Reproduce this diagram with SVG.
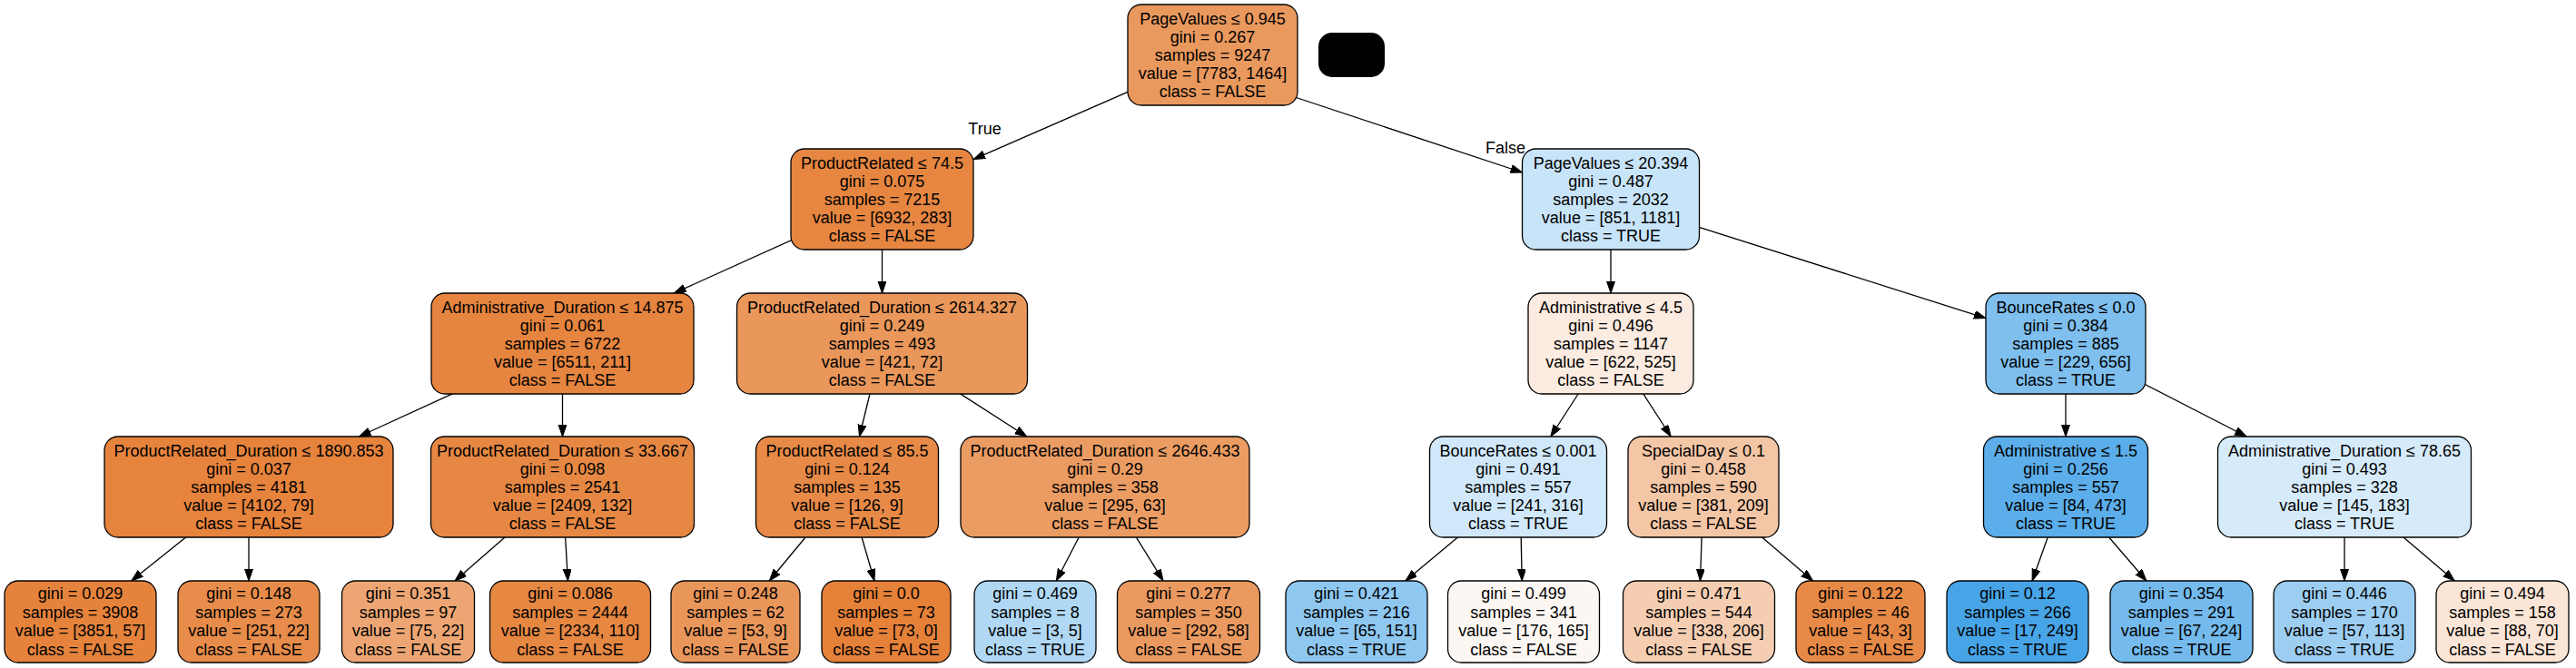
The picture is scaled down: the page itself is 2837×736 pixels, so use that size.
<svg xmlns="http://www.w3.org/2000/svg" width="2837" height="736" viewBox="0 0 2837 736">
<style>
.n rect{stroke:#000;stroke-width:1.3}
text{font-family:"Liberation Sans",Arial,Helvetica,sans-serif;font-size:18px;fill:#000;text-anchor:middle}
.e line{stroke:#000;stroke-width:1.3;marker-end:url(#ah)}
</style>
<defs>
<marker id="ah" markerUnits="userSpaceOnUse" markerWidth="14" markerHeight="10" refX="13" refY="4.5" orient="auto" viewBox="0 0 14 10"><path d="M0,0 L13,4.5 L0,9 z" fill="#000" stroke="#000" stroke-width="1"/></marker>
</defs>
<rect width="2837" height="736" fill="#fff"/>
<g id="connectors" class="e">
<line x1="1335.5" y1="60.5" x2="1072" y2="175.6"/>
<line x1="1420" y1="105" x2="1676.5" y2="190"/>
<line x1="971.5" y1="219.5" x2="742.4" y2="323"/>
<line x1="971.5" y1="219.5" x2="971.5" y2="323"/>
<line x1="1774" y1="219.5" x2="1774" y2="323"/>
<line x1="1774" y1="219.5" x2="2187" y2="350.6"/>
<line x1="619.5" y1="378.5" x2="395.4" y2="481"/>
<line x1="619.5" y1="378.5" x2="619.5" y2="481"/>
<line x1="971.5" y1="378.5" x2="946.5" y2="481"/>
<line x1="971.5" y1="378.5" x2="1130.8" y2="481"/>
<line x1="1774" y1="378.5" x2="1707.8" y2="481"/>
<line x1="1774" y1="378.5" x2="1840.2" y2="481"/>
<line x1="2275" y1="378.5" x2="2275" y2="481"/>
<line x1="2275" y1="378.5" x2="2474.2" y2="481"/>
<line x1="274" y1="536.5" x2="144.7" y2="640"/>
<line x1="274" y1="536.5" x2="274" y2="640"/>
<line x1="619.5" y1="536.5" x2="501" y2="640"/>
<line x1="619.5" y1="536.5" x2="625.4" y2="640"/>
<line x1="933" y1="536.5" x2="847.3" y2="640"/>
<line x1="933" y1="536.5" x2="963" y2="640"/>
<line x1="1217" y1="536.5" x2="1163.3" y2="640"/>
<line x1="1217" y1="536.5" x2="1281.1" y2="640"/>
<line x1="1672" y1="536.5" x2="1547.9" y2="640"/>
<line x1="1674" y1="536.5" x2="1676.2" y2="640"/>
<line x1="1876" y1="536.5" x2="1872.5" y2="640"/>
<line x1="1876" y1="536.5" x2="1996.6" y2="640"/>
<line x1="2275" y1="536.5" x2="2238.1" y2="640"/>
<line x1="2275" y1="536.5" x2="2363.9" y2="640"/>
<line x1="2582" y1="536.5" x2="2582" y2="640"/>
<line x1="2582" y1="536.5" x2="2703.3" y2="640"/>
<text x="1084.5" y="147.5">True</text>
<text x="1658" y="168.5">False</text>
</g>
<g id="redacted"><rect x="1452" y="36" width="73" height="49" rx="15" fill="#000"/></g>
<g id="n0" class="n" transform="translate(1335.5,5)"><rect x="-93.5" y="0" width="187" height="111" rx="15" fill="#ea995e"/><text y="21.5">PageValues ≤ 0.945</text><text y="41.5">gini = 0.267</text><text y="61.5">samples = 9247</text><text y="81.5">value = [7783, 1464]</text><text y="101.5">class = FALSE</text></g>
<g id="n1" class="n" transform="translate(971.5,164)"><rect x="-100.5" y="0" width="201" height="111" rx="15" fill="#e68641"/><text y="21.5">ProductRelated ≤ 74.5</text><text y="41.5">gini = 0.075</text><text y="61.5">samples = 7215</text><text y="81.5">value = [6932, 283]</text><text y="101.5">class = FALSE</text></g>
<g id="n2" class="n" transform="translate(1774,164)"><rect x="-97.5" y="0" width="195" height="111" rx="15" fill="#c8e4f8"/><text y="21.5">PageValues ≤ 20.394</text><text y="41.5">gini = 0.487</text><text y="61.5">samples = 2032</text><text y="81.5">value = [851, 1181]</text><text y="101.5">class = TRUE</text></g>
<g id="n3" class="n" transform="translate(619.5,323)"><rect x="-144.5" y="0" width="289" height="111" rx="15" fill="#e6853f"/><text y="21.5">Administrative_Duration ≤ 14.875</text><text y="41.5">gini = 0.061</text><text y="61.5">samples = 6722</text><text y="81.5">value = [6511, 211]</text><text y="101.5">class = FALSE</text></g>
<g id="n4" class="n" transform="translate(971.5,323)"><rect x="-160" y="0" width="320" height="111" rx="15" fill="#e9975b"/><text y="21.5">ProductRelated_Duration ≤ 2614.327</text><text y="41.5">gini = 0.249</text><text y="61.5">samples = 493</text><text y="81.5">value = [421, 72]</text><text y="101.5">class = FALSE</text></g>
<g id="n5" class="n" transform="translate(1774,323)"><rect x="-91" y="0" width="182" height="111" rx="15" fill="#fbebe0"/><text y="21.5">Administrative ≤ 4.5</text><text y="41.5">gini = 0.496</text><text y="61.5">samples = 1147</text><text y="81.5">value = [622, 525]</text><text y="101.5">class = FALSE</text></g>
<g id="n6" class="n" transform="translate(2275,323)"><rect x="-88" y="0" width="176" height="111" rx="15" fill="#7ebfee"/><text y="21.5">BounceRates ≤ 0.0</text><text y="41.5">gini = 0.384</text><text y="61.5">samples = 885</text><text y="81.5">value = [229, 656]</text><text y="101.5">class = TRUE</text></g>
<g id="n7" class="n" transform="translate(274,481)"><rect x="-159" y="0" width="318" height="111" rx="15" fill="#e6833d"/><text y="21.5">ProductRelated_Duration ≤ 1890.853</text><text y="41.5">gini = 0.037</text><text y="61.5">samples = 4181</text><text y="81.5">value = [4102, 79]</text><text y="101.5">class = FALSE</text></g>
<g id="n8" class="n" transform="translate(619.5,481)"><rect x="-145" y="0" width="290" height="111" rx="15" fill="#e68844"/><text y="21.5">ProductRelated_Duration ≤ 33.667</text><text y="41.5">gini = 0.098</text><text y="61.5">samples = 2541</text><text y="81.5">value = [2409, 132]</text><text y="101.5">class = FALSE</text></g>
<g id="n9" class="n" transform="translate(933,481)"><rect x="-100.5" y="0" width="201" height="111" rx="15" fill="#e78a47"/><text y="21.5">ProductRelated ≤ 85.5</text><text y="41.5">gini = 0.124</text><text y="61.5">samples = 135</text><text y="81.5">value = [126, 9]</text><text y="101.5">class = FALSE</text></g>
<g id="n10" class="n" transform="translate(1217,481)"><rect x="-159" y="0" width="318" height="111" rx="15" fill="#eb9c63"/><text y="21.5">ProductRelated_Duration ≤ 2646.433</text><text y="41.5">gini = 0.29</text><text y="61.5">samples = 358</text><text y="81.5">value = [295, 63]</text><text y="101.5">class = FALSE</text></g>
<g id="n11" class="n" transform="translate(1672,481)"><rect x="-97.5" y="0" width="195" height="111" rx="15" fill="#d0e8f9"/><text y="21.5">BounceRates ≤ 0.001</text><text y="41.5">gini = 0.491</text><text y="61.5">samples = 557</text><text y="81.5">value = [241, 316]</text><text y="101.5">class = TRUE</text></g>
<g id="n12" class="n" transform="translate(1876,481)"><rect x="-83" y="0" width="166" height="111" rx="15" fill="#f3c6a6"/><text y="21.5">SpecialDay ≤ 0.1</text><text y="41.5">gini = 0.458</text><text y="61.5">samples = 590</text><text y="81.5">value = [381, 209]</text><text y="101.5">class = FALSE</text></g>
<g id="n13" class="n" transform="translate(2275,481)"><rect x="-90.5" y="0" width="181" height="111" rx="15" fill="#5caeea"/><text y="21.5">Administrative ≤ 1.5</text><text y="41.5">gini = 0.256</text><text y="61.5">samples = 557</text><text y="81.5">value = [84, 473]</text><text y="101.5">class = TRUE</text></g>
<g id="n14" class="n" transform="translate(2582,481)"><rect x="-139.5" y="0" width="279" height="111" rx="15" fill="#d6ebfa"/><text y="21.5">Administrative_Duration ≤ 78.65</text><text y="41.5">gini = 0.493</text><text y="61.5">samples = 328</text><text y="81.5">value = [145, 183]</text><text y="101.5">class = TRUE</text></g>
<g id="l1" class="n" transform="translate(88.5,640)"><rect x="-83.5" y="0" width="167" height="90" rx="15" fill="#e5833c"/><text y="20">gini = 0.029</text><text y="40.5">samples = 3908</text><text y="61">value = [3851, 57]</text><text y="81.5">class = FALSE</text></g>
<g id="l2" class="n" transform="translate(274,640)"><rect x="-78" y="0" width="156" height="90" rx="15" fill="#e78c4a"/><text y="20">gini = 0.148</text><text y="40.5">samples = 273</text><text y="61">value = [251, 22]</text><text y="81.5">class = FALSE</text></g>
<g id="l3" class="n" transform="translate(449.5,640)"><rect x="-73" y="0" width="146" height="90" rx="15" fill="#eda673"/><text y="20">gini = 0.351</text><text y="40.5">samples = 97</text><text y="61">value = [75, 22]</text><text y="81.5">class = FALSE</text></g>
<g id="l4" class="n" transform="translate(628,640)"><rect x="-88.5" y="0" width="177" height="90" rx="15" fill="#e68742"/><text y="20">gini = 0.086</text><text y="40.5">samples = 2444</text><text y="61">value = [2334, 110]</text><text y="81.5">class = FALSE</text></g>
<g id="l5" class="n" transform="translate(810,640)"><rect x="-71" y="0" width="142" height="90" rx="15" fill="#e9965b"/><text y="20">gini = 0.248</text><text y="40.5">samples = 62</text><text y="61">value = [53, 9]</text><text y="81.5">class = FALSE</text></g>
<g id="l6" class="n" transform="translate(976,640)"><rect x="-71" y="0" width="142" height="90" rx="15" fill="#e58139"/><text y="20">gini = 0.0</text><text y="40.5">samples = 73</text><text y="61">value = [73, 0]</text><text y="81.5">class = FALSE</text></g>
<g id="l7" class="n" transform="translate(1140,640)"><rect x="-67" y="0" width="134" height="90" rx="15" fill="#b0d8f5"/><text y="20">gini = 0.469</text><text y="40.5">samples = 8</text><text y="61">value = [3, 5]</text><text y="81.5">class = TRUE</text></g>
<g id="l8" class="n" transform="translate(1309,640)"><rect x="-78.5" y="0" width="157" height="90" rx="15" fill="#ea9a60"/><text y="20">gini = 0.277</text><text y="40.5">samples = 350</text><text y="61">value = [292, 58]</text><text y="81.5">class = FALSE</text></g>
<g id="l9" class="n" transform="translate(1494,640)"><rect x="-78" y="0" width="156" height="90" rx="15" fill="#8ec7f0"/><text y="20">gini = 0.421</text><text y="40.5">samples = 216</text><text y="61">value = [65, 151]</text><text y="81.5">class = TRUE</text></g>
<g id="l10" class="n" transform="translate(1678,640)"><rect x="-83.5" y="0" width="167" height="90" rx="15" fill="#fdf7f3"/><text y="20">gini = 0.499</text><text y="40.5">samples = 341</text><text y="61">value = [176, 165]</text><text y="81.5">class = FALSE</text></g>
<g id="l11" class="n" transform="translate(1871,640)"><rect x="-83.5" y="0" width="167" height="90" rx="15" fill="#f5ceb2"/><text y="20">gini = 0.471</text><text y="40.5">samples = 544</text><text y="61">value = [338, 206]</text><text y="81.5">class = FALSE</text></g>
<g id="l12" class="n" transform="translate(2049,640)"><rect x="-71" y="0" width="142" height="90" rx="15" fill="#e78a47"/><text y="20">gini = 0.122</text><text y="40.5">samples = 46</text><text y="61">value = [43, 3]</text><text y="81.5">class = FALSE</text></g>
<g id="l13" class="n" transform="translate(2222,640)"><rect x="-78" y="0" width="156" height="90" rx="15" fill="#47a4e7"/><text y="20">gini = 0.12</text><text y="40.5">samples = 266</text><text y="61">value = [17, 249]</text><text y="81.5">class = TRUE</text></g>
<g id="l14" class="n" transform="translate(2402.5,640)"><rect x="-78.5" y="0" width="157" height="90" rx="15" fill="#74baed"/><text y="20">gini = 0.354</text><text y="40.5">samples = 291</text><text y="61">value = [67, 224]</text><text y="81.5">class = TRUE</text></g>
<g id="l15" class="n" transform="translate(2582,640)"><rect x="-78" y="0" width="156" height="90" rx="15" fill="#9dcef2"/><text y="20">gini = 0.446</text><text y="40.5">samples = 170</text><text y="61">value = [57, 113]</text><text y="81.5">class = TRUE</text></g>
<g id="l16" class="n" transform="translate(2756,640)"><rect x="-73" y="0" width="146" height="90" rx="15" fill="#fae5d6"/><text y="20">gini = 0.494</text><text y="40.5">samples = 158</text><text y="61">value = [88, 70]</text><text y="81.5">class = FALSE</text></g>
</svg>
